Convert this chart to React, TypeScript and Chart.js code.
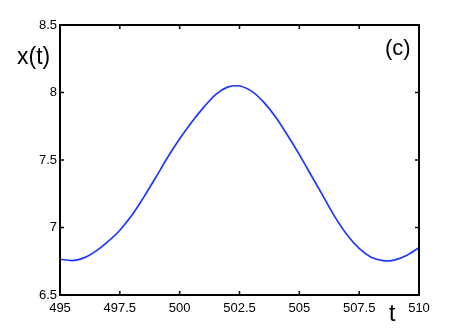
import React, { useEffect, useRef } from "react";
import { Chart, registerables } from "chart.js";

Chart.register(...registerables);

const tValues = [495, 495.5, 496, 496.5, 497, 497.5, 498, 498.5, 499, 499.5, 500, 500.5, 501, 501.5, 502, 502.4, 503, 503.5, 504, 504.5, 505, 505.5, 506, 506.5, 507, 507.5, 508, 508.5, 508.75, 509, 509.5, 510];
const xValues = [6.765, 6.755, 6.775, 6.825, 6.895, 6.98, 7.09, 7.225, 7.37, 7.52, 7.657, 7.78, 7.89, 7.985, 8.04, 8.05, 8.01, 7.93, 7.82, 7.685, 7.54, 7.385, 7.23, 7.075, 6.945, 6.845, 6.78, 6.755, 6.753, 6.76, 6.795, 6.85];
const xTicks = [495, 497.5, 500, 502.5, 505, 507.5, 510];
const yTicks = [6.5, 7, 7.5, 8, 8.5];

const FONT = "'Liberation Sans', Arial, Helvetica, sans-serif";

const framePlugin = {
  id: "frame",
  afterDraw(chart: any) {
    const { ctx, chartArea: a, scales } = chart;
    ctx.save();
    ctx.strokeStyle = "#000";
    ctx.lineWidth = 1.5;
    const L = 4;
    ctx.beginPath();
    for (const v of xTicks) {
      const px = scales.x.getPixelForValue(v);
      ctx.moveTo(px, a.bottom);
      ctx.lineTo(px, a.bottom - L);
      ctx.moveTo(px, a.top);
      ctx.lineTo(px, a.top + L);
    }
    for (const v of yTicks) {
      const py = scales.y.getPixelForValue(v);
      ctx.moveTo(a.left, py);
      ctx.lineTo(a.left + L, py);
      ctx.moveTo(a.right, py);
      ctx.lineTo(a.right - L, py);
    }
    ctx.stroke();
    ctx.lineWidth = 2;
    ctx.strokeRect(a.left, a.top, a.right - a.left, a.bottom - a.top);
    ctx.fillStyle = "#000";
    ctx.textBaseline = "alphabetic";
    ctx.textAlign = "left";
    ctx.font = `23px ${FONT}`;
    ctx.fillText("x(t)", 17, 63.5);
    ctx.fillText("t", 389, 321);
    ctx.font = `22px ${FONT}`;
    ctx.fillText("(c)", 385, 55);
    ctx.restore();
  },
};

export default function App() {
  const ref = useRef<HTMLCanvasElement>(null);
  useEffect(() => {
    const canvas = ref.current;
    if (!canvas) return;
    const chart = new Chart(canvas, {
      type: "line",
      data: {
        datasets: [
          {
            data: tValues.map((t, i) => ({ x: t, y: xValues[i] })),
            borderColor: "rgb(30,55,255)",
            borderWidth: 1.7,
            pointRadius: 0,
            fill: false,
            cubicInterpolationMode: "monotone",
          },
        ],
      },
      options: {
        animation: false,
        responsive: false,
        maintainAspectRatio: false,
        layout: { padding: { left: 0, top: 25, right: 44, bottom: 0 } },
        plugins: { legend: { display: false }, tooltip: { enabled: false } },
        scales: {
          x: {
            type: "linear",
            min: 495,
            max: 510,
            afterBuildTicks: (s: any) => {
              s.ticks = xTicks.map((v) => ({ value: v }));
            },
            afterFit: (s: any) => {
              s.height = 38;
            },
            grid: { display: false, drawTicks: false },
            border: { display: false },
            ticks: {
              padding: 6,
              color: "#000",
              font: { family: FONT, size: 13 },
              maxRotation: 0,
              autoSkip: false,
              callback: (v: any) => String(v),
            },
          },
          y: {
            type: "linear",
            min: 6.5,
            max: 8.5,
            afterBuildTicks: (s: any) => {
              s.ticks = yTicks.map((v) => ({ value: v }));
            },
            afterFit: (s: any) => {
              s.width = 60;
            },
            grid: { display: false, drawTicks: false },
            border: { display: false },
            ticks: {
              padding: 3,
              color: "#000",
              font: { family: FONT, size: 13 },
              autoSkip: false,
              callback: (v: any) => String(v),
            },
          },
        },
      },
      plugins: [framePlugin],
    } as any);
    return () => chart.destroy();
  }, []);
  return (
    <div style={{ position: "absolute", left: 0, top: 0, width: 463, height: 333, background: "#fff" }}>
      <canvas ref={ref} width={463} height={333} style={{ display: "block" }} />
    </div>
  );
}
